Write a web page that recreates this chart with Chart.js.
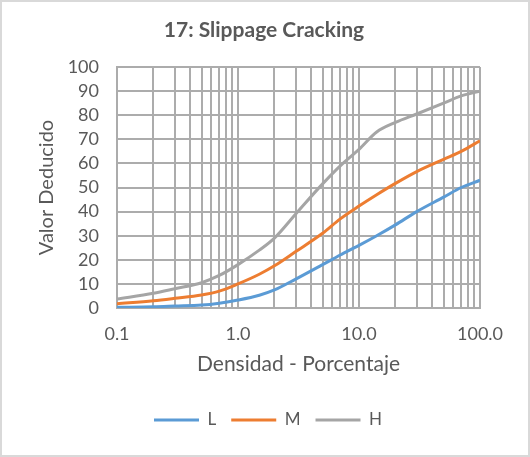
<!DOCTYPE html>
<html>
<head>
<meta charset="utf-8">
<script src="https://cdn.jsdelivr.net/npm/chart.js@4/dist/chart.umd.min.js"></script>
<style>
  html, body { margin: 0; padding: 0; background: #ffffff; }
  #wrap { width: 530px; height: 457px; position: relative; }
</style>
</head>
<body>
<div id="wrap"><canvas id="c" width="530" height="457"></canvas></div>
<script>
// ---- data ----
const density = [0.1, 0.2, 0.3, 0.5, 0.7, 1, 1.5, 2, 3, 5, 7, 10, 14, 20, 30, 50, 70, 100];
const lValues = [0.3, 0.5, 0.8, 1.2, 2.0, 3.3, 5.3, 7.5, 12, 18, 22, 26, 30, 34.5, 40, 46, 50, 53];
const mValues = [1.8, 3.0, 4.0, 5.4, 7.0, 10, 14, 17.5, 23.4, 31, 37, 42.3, 47, 51.7, 56.6, 61.7, 65, 69.4];
const hValues = [3.7, 6.1, 8.0, 10.5, 13.5, 18, 24, 29, 39, 51.5, 59, 65.8, 73, 77, 80.5, 85, 88, 90];
const seriesNames = ['L', 'M', 'H'];
const decades = [0.1, 1, 10];
const steps = [1, 2, 3, 4, 5, 6, 7, 8, 9];
const majorTicks = [0.1, 1, 10, 100];
const majorLabels = ['0.1', '1.0', '10.0', '100.0'];

const textColor = '#595959';
const fontFamily = 'Lato, "Open Sans", sans-serif';

function pts(vals) { return density.map((d, i) => ({ x: d, y: vals[i] })); }

const tickValues = [];
decades.forEach(d => steps.forEach(s => tickValues.push(+(d * s).toPrecision(3))));
tickValues.push(100);

const frame = {
  id: 'frame',
  afterLayout(chart) {
    if (chart.legend) { chart.legend.left += 28; chart.legend.right += 28; }
    if (chart.titleBlock) { chart.titleBlock.left += 24; chart.titleBlock.right += 24; }
  },
  beforeDraw(chart) {
    const ctx = chart.ctx;
    ctx.save();
    ctx.fillStyle = '#ffffff';
    ctx.fillRect(0, 0, chart.width, chart.height);
    ctx.strokeStyle = '#d9d9d9';
    ctx.lineWidth = 2;
    ctx.strokeRect(1, 1, chart.width - 2, chart.height - 2);
    ctx.restore();
  }
};

new Chart(document.getElementById('c'), {
  type: 'line',
  data: {
    datasets: [
      { label: seriesNames[0], data: pts(lValues), borderColor: '#5b9bd5', backgroundColor: '#5b9bd5', borderWidth: 3 },
      { label: seriesNames[1], data: pts(mValues), borderColor: '#ed7d31', backgroundColor: '#ed7d31', borderWidth: 3 },
      { label: seriesNames[2], data: pts(hValues), borderColor: '#a5a5a5', backgroundColor: '#a5a5a5', borderWidth: 3 }
    ]
  },
  options: {
    responsive: false,
    animation: false,
    devicePixelRatio: 1,
    layout: { padding: { left: 0, right: 50, top: 0, bottom: 18.5 } },
    elements: {
      line: { cubicInterpolationMode: 'monotone', fill: false },
      point: { radius: 0, hoverRadius: 0 }
    },
    scales: {
      x: {
        type: 'logarithmic',
        min: 0.1,
        max: 100,
        afterBuildTicks(axis) { axis.ticks = tickValues.map(v => ({ value: v })); },
        afterFit(axis) { axis.height = 88.5; },
        grid: { color: '#acacac', lineWidth: 2, drawTicks: false },
        border: { color: '#acacac', width: 2 },
        ticks: {
          autoSkip: false,
          maxRotation: 0,
          padding: 15,
          color: textColor,
          font: { family: fontFamily, size: 18 },
          callback(v) {
            const i = majorTicks.findIndex(m => Math.abs(m - v) < 1e-9);
            return i >= 0 ? majorLabels[i] : '';
          }
        },
        title: {
          display: true,
          text: 'Densidad - Porcentaje',
          color: textColor,
          font: { family: fontFamily, size: 21 },
          padding: { top: 0, bottom: 19.4 }
        }
      },
      y: {
        min: 0,
        max: 100,
        afterFit(axis) { axis.width = 117; },
        grid: { color: '#acacac', lineWidth: 2, drawTicks: false },
        border: { color: '#acacac', width: 2 },
        ticks: {
          stepSize: 10,
          autoSkip: false,
          padding: 18,
          color: textColor,
          font: { family: fontFamily, size: 18 }
        },
        title: {
          display: true,
          text: 'Valor Deducido',
          color: textColor,
          font: { family: fontFamily, size: 20 },
          padding: { top: 35, bottom: 0 }
        }
      }
    },
    plugins: {
      title: {
        display: true,
        text: '17: Slippage Cracking',
        color: textColor,
        font: { family: fontFamily, size: 21, weight: 'bold' },
        padding: { top: 17.4, bottom: 24.4 }
      },
      legend: {
        position: 'bottom',
        labels: {
          usePointStyle: true,
          pointStyle: 'line',
          pointStyleWidth: 45,
          padding: 15,
          color: textColor,
          font: { family: fontFamily, size: 17 }
        }
      },
      tooltip: { enabled: false }
    }
  },
  plugins: [frame]
});
</script>
</body>
</html>
